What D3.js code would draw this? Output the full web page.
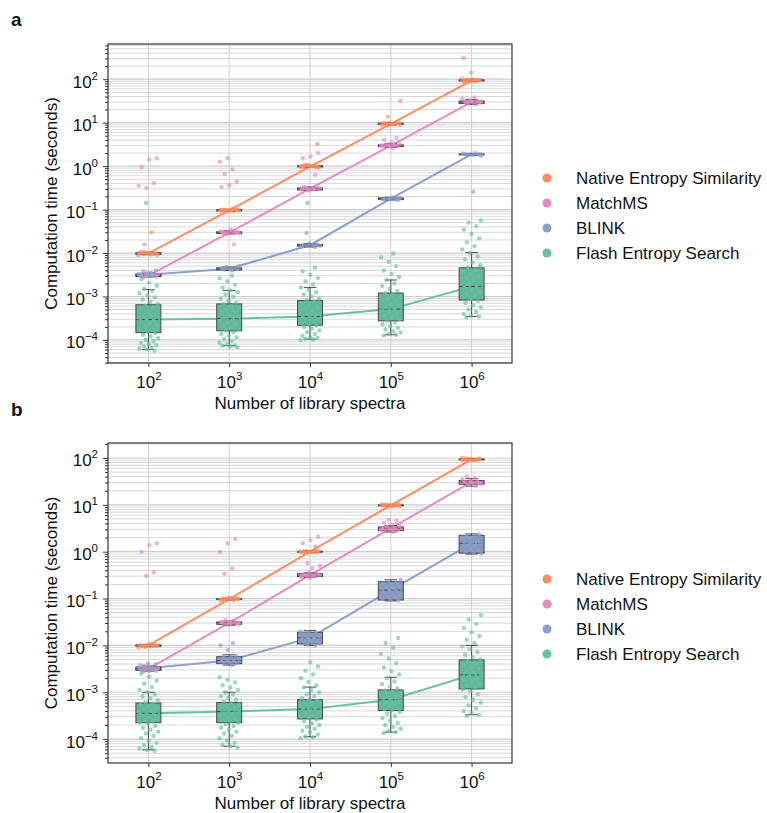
<!DOCTYPE html>
<html lang="en">
<head>
<meta charset="utf-8">
<title>Computation time vs number of library spectra</title>
<script src="https://d3js.org/d3.v7.min.js"></script>
<style>
  body { margin: 0; background: #fff; }
  text { font-family: "Liberation Sans", Arial, Helvetica, sans-serif; fill: #111; }
</style>
</head>
<body>
<script>
// library sizes (powers of ten) and methods
var libExp = [2, 3, 4, 5, 6];
var methods = ["Native Entropy Similarity", "MatchMS", "BLINK", "Flash Entropy Search"];
var colors = ["#fc8d62", "#e78ac3", "#8da0cb", "#66c2a5"];
var yTickExp = [-4, -3, -2, -1, 0, 1, 2];

// box stats, log10(seconds): [low whisker, q1, median, q3, high whisker] per library size
var boxA_native = [[-2.04,-2.03,-2.01,-1.99,-1.98],[-1.04,-1.03,-1.02,-1.0,-0.99],[-0.03,-0.02,-0.01,0.01,0.02],[0.95,0.96,0.97,0.99,1.0],[1.95,1.96,1.97,1.99,2.0]];
var boxA_matchms = [[-2.55,-2.54,-2.52,-2.5,-2.48],[-1.56,-1.55,-1.53,-1.51,-1.49],[-0.56,-0.55,-0.52,-0.5,-0.48],[0.43,0.45,0.47,0.49,0.52],[1.42,1.44,1.47,1.5,1.53]];
var boxA_blink = [[-2.53,-2.52,-2.5,-2.48,-2.46],[-2.4,-2.39,-2.36,-2.34,-2.32],[-1.86,-1.84,-1.82,-1.8,-1.78],[-0.78,-0.77,-0.75,-0.73,-0.72],[0.25,0.26,0.27,0.28,0.29]];
var boxA_flash = [[-4.22,-3.83,-3.53,-3.19,-2.84],[-4.13,-3.79,-3.51,-3.17,-2.86],[-3.98,-3.66,-3.46,-3.09,-2.79],[-3.88,-3.56,-3.29,-2.92,-2.62],[-3.46,-3.08,-2.77,-2.34,-1.99]];

var boxB_native = [[-2.03,-2.02,-2.0,-1.99,-1.98],[-1.03,-1.02,-1.01,-1.0,-0.99],[-0.02,-0.01,0,0.01,0.02],[0.97,0.98,0.99,1.0,1.01],[1.95,1.96,1.97,1.98,1.99]];
var boxB_matchms = [[-2.55,-2.53,-2.5,-2.48,-2.46],[-1.57,-1.55,-1.52,-1.5,-1.48],[-0.55,-0.53,-0.5,-0.47,-0.45],[0.42,0.45,0.5,0.53,0.56],[1.4,1.44,1.49,1.52,1.56]];
var boxB_blink = [[-2.54,-2.52,-2.49,-2.46,-2.44],[-2.42,-2.39,-2.32,-2.24,-2.2],[-2.0,-1.97,-1.84,-1.72,-1.68],[-1.05,-1.03,-0.82,-0.64,-0.6],[-0.05,-0.03,0.18,0.35,0.38]];
var boxB_flash = [[-4.23,-3.65,-3.45,-3.23,-3.0],[-4.15,-3.65,-3.41,-3.22,-3.0],[-3.95,-3.57,-3.36,-3.16,-2.89],[-3.85,-3.39,-3.16,-2.95,-2.68],[-3.48,-2.93,-2.63,-2.31,-2.0]];

// individual runs, log10(seconds), per library size
var ptsA_native = [
  [-2.05,-2.03,-2.02,-2.01,-2.0,-2.0,-1.99,-1.98,-2.04,-2.01,-1.97,-2.02,-2.0,-1.99,-1.52],
  [-1.05,-1.03,-1.02,-1.02,-1.01,-1.0,-0.99,-1.04,-1.01,-0.98,-1.03,-1.0,-1.02,-1.01,-0.99],
  [-0.04,-0.02,-0.01,0,0.01,0.02,-0.03,0,0.01,-0.01,0.03,-0.02,0,0.02,0.51],
  [0.94,0.96,0.97,0.98,0.99,1.0,0.95,0.97,0.98,1.01,0.96,0.99,0.97,1.14,1.5],
  [1.94,1.96,1.97,1.98,1.99,2.0,1.95,1.97,1.98,2.01,1.96,1.99,1.97,2.15,2.49]];
var ptsA_matchms = [
  [-2.56,-2.54,-2.53,-2.52,-2.51,-2.5,-2.49,-2.47,-2.53,-2.5,-2.45,-2.52,-2.51,-1.8,0.18,0.15,-0.02,-0.39,-0.5,-0.45],
  [-1.57,-1.55,-1.54,-1.53,-1.52,-1.51,-1.5,-1.48,-1.55,-1.52,-1.46,-1.53,-1.51,0.18,0.1,-0.08,-0.18,-0.36,-0.44,-0.48,-1.8],
  [-0.56,-0.54,-0.53,-0.52,-0.51,-0.5,-0.48,-0.46,-0.55,-0.5,-0.53,-0.51,0.3,0.22,0.18,-0.2],
  [0.42,0.44,0.46,0.47,0.48,0.49,0.5,0.52,0.55,0.6,0.65,0.45,0.47,0.49],
  [1.42,1.44,1.46,1.47,1.48,1.5,1.52,1.55,1.58,1.45,1.47,1.49]];
var ptsA_blink = [
  [-2.53,-2.51,-2.5,-2.49,-2.48,-2.46,-2.42,-2.4,-2.51,-2.49],
  [-2.4,-2.38,-2.37,-2.36,-2.35,-2.34,-2.32,-2.3,-2.37,-2.35],
  [-1.86,-1.84,-1.83,-1.82,-1.81,-1.8,-1.78,-1.83,-1.81,-1.54],
  [-0.78,-0.77,-0.76,-0.75,-0.74,-0.73,-0.72,-0.76,-0.75,-0.74],
  [0.24,0.26,0.27,0.27,0.28,0.29,0.3,0.26,0.28]];
var ptsA_flash = [
  [-4.25,-4.22,-4.2,-4.18,-4.15,-4.12,-4.1,-4.07,-4.03,-4.0,-3.96,-3.92,-3.88,-3.84,-3.8,-3.77,-3.74,-3.7,-3.66,-3.62,-3.58,-3.55,-3.52,-3.49,-3.45,-3.41,-3.37,-3.33,-3.29,-3.25,-3.21,-3.17,-3.12,-3.07,-3.02,-2.97,-2.92,-2.87,-2.82,-2.75,-2.68,-2.6,-2.52,-0.85],
  [-4.17,-4.15,-4.13,-4.12,-4.1,-4.06,-4.02,-3.98,-3.94,-3.9,-3.86,-3.82,-3.79,-3.76,-3.72,-3.68,-3.64,-3.6,-3.56,-3.52,-3.49,-3.46,-3.42,-3.38,-3.34,-3.3,-3.26,-3.22,-3.18,-3.14,-3.1,-3.05,-3.0,-2.95,-2.9,-2.86,-2.8,-2.73,-2.65,-2.58,-2.52],
  [-4.0,-3.99,-3.97,-3.95,-3.93,-3.9,-3.86,-3.82,-3.78,-3.74,-3.7,-3.67,-3.64,-3.61,-3.58,-3.55,-3.52,-3.49,-3.46,-3.43,-3.4,-3.36,-3.32,-3.28,-3.24,-3.2,-3.16,-3.12,-3.09,-3.05,-3.0,-2.95,-2.9,-2.85,-2.79,-2.72,-2.65,-2.58,-2.5,-2.42,-2.33,-0.85],
  [-3.9,-3.88,-3.86,-3.83,-3.8,-3.76,-3.72,-3.68,-3.64,-3.6,-3.56,-3.52,-3.48,-3.44,-3.4,-3.36,-3.32,-3.29,-3.25,-3.21,-3.17,-3.13,-3.09,-3.05,-3.01,-2.96,-2.92,-2.87,-2.82,-2.76,-2.7,-2.62,-2.55,-2.48,-2.4,-2.3,-2.2,-2.1,-2.01],
  [-3.48,-3.46,-3.44,-3.4,-3.35,-3.3,-3.25,-3.2,-3.15,-3.1,-3.06,-3.02,-2.98,-2.94,-2.9,-2.85,-2.8,-2.76,-2.72,-2.68,-2.63,-2.58,-2.53,-2.48,-2.43,-2.38,-2.34,-2.28,-2.22,-2.15,-2.08,-2.0,-1.92,-1.84,-1.75,-1.66,-1.56,-1.46,-1.38,-1.3,-1.25,-0.59]];

var ptsB_native = [
  [-2.04,-2.02,-2.01,-2.0,-2.0,-1.99,-1.98,-2.03,-2.01,-1.97,-2.02,-2.0,-1.99],
  [-1.04,-1.03,-1.02,-1.01,-1.0,-1.0,-0.99,-0.98,-1.02,-1.0,-1.03,-1.01,-0.99],
  [-0.03,-0.02,-0.01,0,0,0.01,0.02,-0.01,0.01,0.03,-0.02,0,0.01],
  [0.96,0.97,0.98,0.99,0.99,1.0,1.01,0.98,1.0,1.02,0.97,0.99,1.0],
  [1.94,1.95,1.96,1.97,1.97,1.98,1.99,1.96,1.98,2.0,1.95,1.97,1.99]];
var ptsB_matchms = [
  [-2.56,-2.54,-2.53,-2.52,-2.51,-2.5,-2.49,-2.48,-2.46,-2.52,-2.45,-2.42,-2.51,-2.49,0.18,0.14,0.0,-0.44,-0.52],
  [-1.57,-1.55,-1.54,-1.53,-1.52,-1.51,-1.5,-1.48,-1.46,-1.53,-1.52,-1.5,0.27,0.18,0.0,-0.36,-0.47],
  [-0.56,-0.54,-0.53,-0.52,-0.5,-0.49,-0.48,-0.46,-0.44,-0.51,-0.52,-0.5,0.32,0.25,0.18,0.11,-0.24,-0.3,-0.35],
  [0.42,0.44,0.46,0.48,0.5,0.51,0.53,0.55,0.58,0.62,0.66,0.68,0.47,0.49],
  [1.4,1.43,1.45,1.47,1.49,1.5,1.52,1.54,1.57,1.61,1.46,1.48]];
var ptsB_blink = [
  [-2.54,-2.52,-2.5,-2.49,-2.48,-2.46,-2.44,-2.4,-2.38,-2.5,-2.48],
  [-2.42,-2.4,-2.38,-2.36,-2.34,-2.32,-2.3,-2.28,-2.26,-2.24,-2.22,-2.1,-2.0,-1.95],
  [-2.0,-1.98,-1.96,-1.94,-1.92,-1.9,-1.88,-1.86,-1.84,-1.82,-1.8,-1.78,-1.76,-1.74,-1.72,-1.7],
  [-1.04,-1.02,-1.0,-0.98,-0.95,-0.92,-0.9,-0.88,-0.85,-0.82,-0.8,-0.78,-0.75,-0.72,-0.7,-0.68,-0.65,-0.62,-0.6],
  [-0.04,-0.02,0.0,0.03,0.06,0.09,0.12,0.15,0.18,0.2,0.22,0.25,0.28,0.3,0.33,0.35,0.37]];
var ptsB_flash = [
  [-4.25,-4.23,-4.2,-4.17,-4.13,-4.08,-4.03,-3.98,-3.93,-3.88,-3.84,-3.8,-3.76,-3.72,-3.68,-3.65,-3.62,-3.59,-3.56,-3.53,-3.5,-3.47,-3.45,-3.42,-3.39,-3.36,-3.33,-3.3,-3.27,-3.24,-3.21,-3.17,-3.13,-3.09,-3.05,-3.0,-2.95,-2.89,-2.82,-2.75,-2.67,-2.6,-2.52],
  [-4.18,-4.15,-4.12,-4.08,-4.03,-3.98,-3.93,-3.88,-3.84,-3.8,-3.76,-3.72,-3.68,-3.65,-3.62,-3.59,-3.56,-3.53,-3.5,-3.47,-3.44,-3.41,-3.38,-3.35,-3.32,-3.29,-3.26,-3.23,-3.2,-3.16,-3.12,-3.08,-3.04,-3.0,-2.95,-2.9,-2.85,-2.79,-2.73,-2.68],
  [-3.98,-3.96,-3.94,-3.9,-3.86,-3.82,-3.78,-3.74,-3.7,-3.66,-3.62,-3.58,-3.55,-3.52,-3.49,-3.46,-3.43,-3.4,-3.37,-3.34,-3.31,-3.28,-3.25,-3.22,-3.19,-3.16,-3.12,-3.08,-3.04,-3.0,-2.95,-2.9,-2.85,-2.78,-2.7,-2.62,-2.54,-2.45,-2.36],
  [-3.87,-3.85,-3.82,-3.78,-3.74,-3.7,-3.65,-3.6,-3.55,-3.5,-3.46,-3.42,-3.39,-3.36,-3.33,-3.3,-3.27,-3.24,-3.21,-3.18,-3.15,-3.12,-3.09,-3.06,-3.03,-3.0,-2.96,-2.92,-2.88,-2.83,-2.77,-2.7,-2.62,-2.55,-2.47,-2.38,-2.28,-2.18,-2.05,-1.95,-1.84],
  [-3.5,-3.48,-3.45,-3.4,-3.34,-3.28,-3.22,-3.16,-3.1,-3.04,-2.98,-2.94,-2.9,-2.86,-2.82,-2.78,-2.74,-2.7,-2.66,-2.62,-2.58,-2.54,-2.5,-2.46,-2.42,-2.38,-2.34,-2.3,-2.25,-2.2,-2.14,-2.08,-2.02,-1.95,-1.88,-1.8,-1.72,-1.63,-1.54,-1.45,-1.35]];

var panels = [
  { letter: "a", top: 44, bottom: 363, yMin: -4.53, yMax: 2.81, legendTop: 178,
    boxes: [boxA_native, boxA_matchms, boxA_blink, boxA_flash],
    pts: [ptsA_native, ptsA_matchms, ptsA_blink, ptsA_flash] },
  { letter: "b", top: 443, bottom: 763, yMin: -4.51, yMax: 2.32, legendTop: 579,
    boxes: [boxB_native, boxB_matchms, boxB_blink, boxB_flash],
    pts: [ptsB_native, ptsB_matchms, ptsB_blink, ptsB_flash] }
];

var W = 767, H = 813;
var left = 108, right = 512, boxW = 25;

var svg = d3.select("body").append("svg")
  .attr("width", W).attr("height", H);

var x = d3.scalePoint().domain(libExp).range([left, right]).padding(0.5);

function boxFill(c) {
  var h = d3.hsl(c);
  h.s = h.s * 0.85;
  h.l = h.l * 0.95;
  return h.formatHex();
}

function powLabel(sel, e, supDy) {
  sel.text(null);
  sel.append("tspan").text("10");
  sel.append("tspan").attr("dy", supDy).style("font-size", "11.5px")
    .text(e < 0 ? "\u2212" + (-e) : e);
}

panels.forEach(function(p) {
  var y = d3.scaleLog()
    .domain([Math.pow(10, p.yMin), Math.pow(10, p.yMax)])
    .range([p.bottom, p.top]);

  var g = svg.append("g");

  // minor + major gridlines
  var minors = [];
  for (var k = -5; k <= 2; k++) {
    for (var m = 2; m <= 9; m++) {
      var v = m * Math.pow(10, k);
      if (Math.log10(v) > p.yMin && Math.log10(v) < p.yMax) minors.push(v);
    }
  }
  var majors = yTickExp.map(function(e) { return Math.pow(10, e); });

  g.append("g").selectAll("line").data(minors).enter().append("line")
    .attr("x1", left).attr("x2", right)
    .attr("y1", function(d) { return y(d); }).attr("y2", function(d) { return y(d); })
    .attr("stroke", "#d8d8d8").attr("stroke-width", 1);
  g.append("g").selectAll("line").data(majors).enter().append("line")
    .attr("x1", left).attr("x2", right)
    .attr("y1", function(d) { return y(d); }).attr("y2", function(d) { return y(d); })
    .attr("stroke", "#cccccc").attr("stroke-width", 1.2);
  g.append("g").selectAll("line").data(libExp).enter().append("line")
    .attr("x1", function(d) { return x(d); }).attr("x2", function(d) { return x(d); })
    .attr("y1", p.top).attr("y2", p.bottom)
    .attr("stroke", "#cfcfcf").attr("stroke-width", 1);

  // median connecting lines
  var line = d3.line()
    .x(function(d, i) { return x(libExp[i]); })
    .y(function(d) { return y(Math.pow(10, d[2])); });
  p.boxes.forEach(function(b, s) {
    g.append("path").datum(b)
      .attr("d", line)
      .attr("fill", "none")
      .attr("stroke", colors[s])
      .attr("stroke-width", 2);
  });

  // boxes
  p.boxes.forEach(function(b, s) {
    var bg = g.append("g");
    b.forEach(function(st, i) {
      var cx = x(libExp[i]);
      var yv = st.map(function(e) { return y(Math.pow(10, e)); });
      bg.append("line").attr("x1", cx).attr("x2", cx).attr("y1", yv[0]).attr("y2", yv[1])
        .attr("stroke", "#4a4a4a").attr("stroke-width", 1);
      bg.append("line").attr("x1", cx).attr("x2", cx).attr("y1", yv[3]).attr("y2", yv[4])
        .attr("stroke", "#4a4a4a").attr("stroke-width", 1);
      [yv[0], yv[4]].forEach(function(cy) {
        bg.append("line").attr("x1", cx - boxW / 4).attr("x2", cx + boxW / 4)
          .attr("y1", cy).attr("y2", cy)
          .attr("stroke", "#4a4a4a").attr("stroke-width", 1);
      });
      bg.append("rect")
        .attr("x", cx - boxW / 2).attr("width", boxW)
        .attr("y", yv[3]).attr("height", Math.max(yv[1] - yv[3], 0.5))
        .attr("fill", boxFill(colors[s]))
        .attr("stroke", "#4a4a4a").attr("stroke-width", 1);
      bg.append("line").attr("x1", cx - boxW / 2).attr("x2", cx + boxW / 2)
        .attr("y1", yv[2]).attr("y2", yv[2])
        .attr("stroke", "#4a4a4a").attr("stroke-width", 1)
        .attr("stroke-dasharray", "4,2");
    });
  });

  // strip points, spread sideways by a fixed pattern
  p.pts.forEach(function(groups, s) {
    groups.forEach(function(vals, i) {
      g.append("g").selectAll("circle").data(vals).enter().append("circle")
        .attr("cx", function(d, j) {
          var f = (j * 0.618034 + s * 0.27 + i * 0.11) % 1;
          return x(libExp[i]) + (f - 0.5) * 20;
        })
        .attr("cy", function(d) { return y(Math.pow(10, d)); })
        .attr("r", 2.2)
        .attr("fill", colors[s])
        .attr("fill-opacity", 0.65);
    });
  });

  // frame
  g.append("rect")
    .attr("x", left).attr("y", p.top)
    .attr("width", right - left).attr("height", p.bottom - p.top)
    .attr("fill", "none").attr("stroke", "#333").attr("stroke-width", 1.2);

  // y axis: major ticks with labels, minor ticks
  var yMinor = g.append("g").attr("transform", "translate(" + left + ",0)")
    .call(d3.axisLeft(y).tickValues(minors).tickSize(3).tickFormat(""));
  yMinor.select(".domain").remove();
  yMinor.selectAll("line").attr("stroke", "#333");

  var yAxis = g.append("g").attr("transform", "translate(" + left + ",0)")
    .call(d3.axisLeft(y).tickValues(majors).tickSize(5).tickPadding(5));
  yAxis.select(".domain").remove();
  yAxis.selectAll("line").attr("stroke", "#333");
  yAxis.selectAll(".tick text")
    .attr("dy", "0.47em")
    .style("font-size", "17px")
    .each(function(d) {
      powLabel(d3.select(this), Math.round(Math.log10(d)), -8);
    });

  // x axis
  var xAxis = g.append("g").attr("transform", "translate(0," + p.bottom + ")")
    .call(d3.axisBottom(x).tickSize(4));
  xAxis.select(".domain").remove();
  xAxis.selectAll("line").attr("stroke", "#333");
  xAxis.selectAll(".tick text")
    .attr("y", 25).attr("dy", 0)
    .style("font-size", "17px")
    .each(function(d) { powLabel(d3.select(this), d, -8); });

  // axis titles
  g.append("text")
    .attr("x", (left + right) / 2).attr("y", p.bottom + 46)
    .attr("text-anchor", "middle").style("font-size", "17px")
    .text("Number of library spectra");
  g.append("text")
    .attr("transform", "translate(57," + ((p.top + p.bottom) / 2) + ") rotate(-90)")
    .attr("text-anchor", "middle").style("font-size", "17px")
    .text("Computation time (seconds)");

  // panel letter
  g.append("text")
    .attr("x", 11).attr("y", p.letter === "a" ? 26 : 416)
    .style("font-size", "19px").style("font-weight", "bold")
    .text(p.letter);

  // legend
  var lg = g.append("g").attr("transform", "translate(547," + p.legendTop + ")");
  methods.forEach(function(name, s) {
    lg.append("circle").attr("cx", 0).attr("cy", s * 25).attr("r", 4.5)
      .attr("fill", colors[s]);
    lg.append("text").attr("x", 29).attr("y", s * 25).attr("dy", "0.36em")
      .style("font-size", "17px").text(name);
  });
});
</script>
</body>
</html>
